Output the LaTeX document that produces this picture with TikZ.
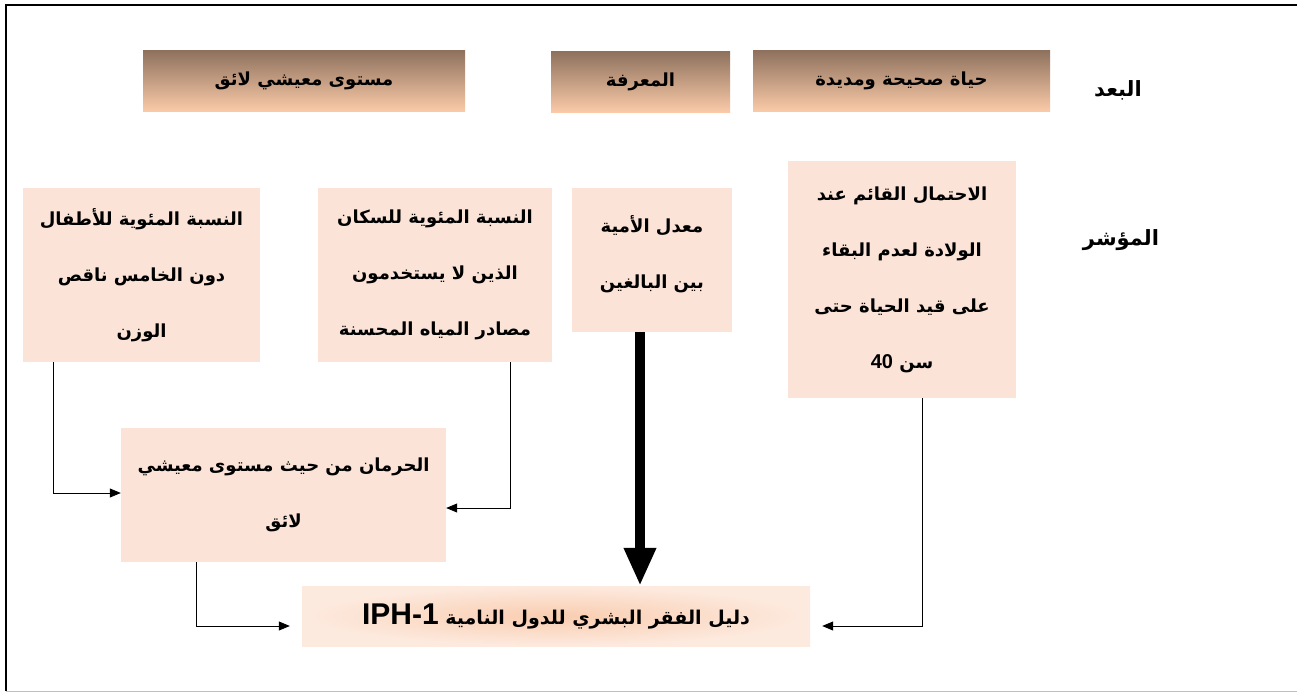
\documentclass[tikz,border=0pt]{standalone}
\usepackage{fontspec}
\usetikzlibrary{arrows.meta}
\TeXXeTstate=1
\newfontfamily\arabicfont[Script=Arabic]{DejaVu Sans}
\newfontfamily\latinfont{Liberation Sans}
\definecolor{dimtop}{HTML}{8F725E}
\definecolor{dimbot}{HTML}{FACAA8}
\definecolor{indfill}{HTML}{FBE4D7}
\definecolor{finin}{HTML}{F9CDB0}
\definecolor{finout}{HTML}{FDEADF}
\newcommand\ar[1]{\beginR #1\endR}
\begin{document}
\begin{tikzpicture}[x=1pt, y=-1pt,
  every node/.style = {align=center, inner sep=0pt,
    font=\arabicfont\bfseries\fontsize{18}{56}\selectfont},
  dimbox/.style = {minimum height=60pt, top color=dimtop, bottom color=dimbot},
  sidelabel/.style = {font=\arabicfont\bfseries\fontsize{21}{24}\selectfont},
  indbox/.style = {fill=indfill},
  finalbox/.style = {minimum width=508pt, minimum height=60pt,
    inner color=finin, outer color=finout,
    font=\arabicfont\bfseries\fontsize{19}{24}\selectfont},
  link/.style = {line width=0.8pt, -{Triangle[width=9pt,length=11pt]}},
  bigarrow/.style = {line width=10pt, -{Triangle[width=30pt,length=38pt]}}]
  \useasboundingbox (0,0) rectangle (1297,693);
  \draw[line width=1.5pt] (6,691) -- (6,5) -- (1297,5);
  \draw[black!25] (6,691) -- (1297,691);

  \node[dimbox, minimum width=322pt] (living) at (304,81) {\ar{مستوى معيشي لائق}};
  \node[dimbox, minimum width=179pt] (knowledge) at (640.5,82) {\ar{المعرفة}};
  \node[dimbox, minimum width=297pt] (life) at (901.5,81) {\ar{حياة صحيحة ومديدة}};
  \node[sidelabel] (dimension) at (1118,90) {\ar{البعد}};
  \node[sidelabel] (indicator) at (1121,240) {\ar{المؤشر}};

  \node[indbox, minimum width=228pt, minimum height=237pt] (survival) at (902,279.5)
    {\ar{الاحتمال القائم عند}\\ \ar{الولادة لعدم البقاء}\\
     \ar{على قيد الحياة حتى}\\ \ar{سن \beginL{\latinfont\fontsize{20}{24}\selectfont 40}\endL}};
  \node[indbox, minimum width=160pt, minimum height=144pt] (illiteracy) at (652,260)
    {\ar{معدل الأمية}\\ \ar{بين البالغين}\\[-40pt]};
  \node[indbox, minimum width=234pt, minimum height=174pt] (water) at (435,275)
    {\ar{النسبة المئوية للسكان}\\ \ar{الذين لا يستخدمون}\\ \ar{مصادر المياه المحسنة}};
  \node[indbox, minimum width=237pt, minimum height=174pt] (children) at (141.5,275)
    {\ar{النسبة المئوية للأطفال}\\ \ar{دون الخامس ناقص}\\ \ar{الوزن}};
  \node[indbox, minimum width=325pt, minimum height=134pt] (deprivation) at (283.5,495)
    {\ar{الحرمان من حيث مستوى معيشي}\\ \ar{لائق}};
  \node[finalbox] (iph) at (556,616)
    {\ar{دليل الفقر البشري للدول النامية \beginL{\latinfont\fontsize{30}{32}\selectfont IPH-1}\endL}};

  \draw[link] ([xshift=-88.5pt]children.south) |- ([yshift=2pt]deprivation.west);
  \draw[link] ([xshift=75pt]water.south) |- ([yshift=-13pt]deprivation.east);
  \draw[link, shorten >=12pt] ([xshift=-87.5pt]deprivation.south) |- ([yshift=-10pt]iph.west);
  \draw[link, shorten >=12pt] ([xshift=20pt]survival.south) |- ([yshift=-10pt]iph.east);
  \coordinate (drop) at ([xshift=-12pt]illiteracy.south);
  \draw[bigarrow] (drop) -- (drop |- iph.north);
\end{tikzpicture}
\end{document}
